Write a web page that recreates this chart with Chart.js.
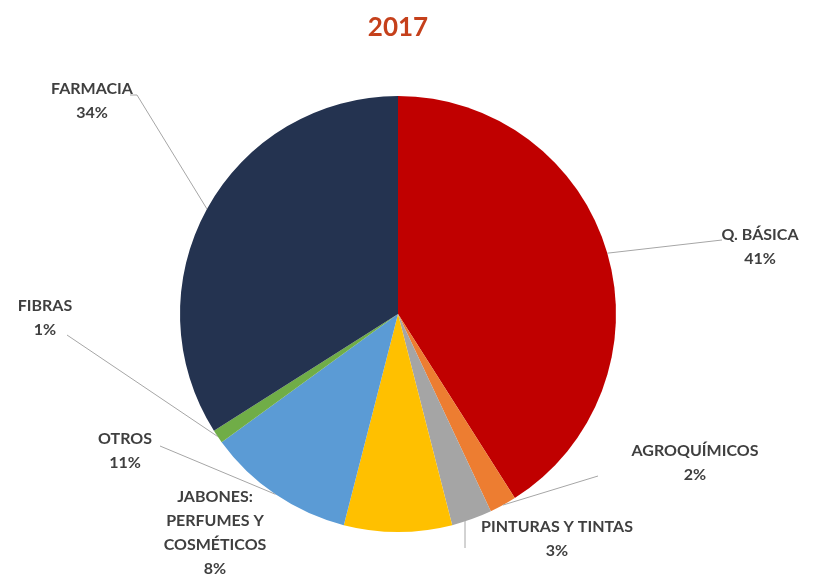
<!DOCTYPE html>
<html>
<head>
<meta charset="utf-8">
<script src="https://cdn.jsdelivr.net/npm/chart.js@4/dist/chart.umd.min.js"></script>
<style>
  html, body { margin: 0; padding: 0; background: #fff; }
  #wrap { width: 825px; height: 576px; position: relative; }
</style>
</head>
<body>
<div id="wrap"><canvas id="pie"></canvas></div>
<script>
// ── Data ─────────────────────────────────────────────────────────
const chartTitle = "2017";
const categories = ["Q. BÁSICA", "AGROQUÍMICOS", "PINTURAS Y TINTAS", "JABONES: PERFUMES Y COSMÉTICOS", "OTROS", "FIBRAS", "FARMACIA"];
const shares     = [41, 2, 3, 8, 11, 1, 34];
const colors     = ["#C00000", "#ED7D31", "#A5A5A5", "#FFC000", "#5B9BD5", "#70AD47", "#243350"];

// ── Label placement (text lines, anchor position, leader elbow) ─
const labelLayout = [
    { lines: ["Q. BÁSICA", "41%"],                          x: 760, y: 235, elbow: [722, 240] },
    { lines: ["AGROQUÍMICOS", "2%"],                        x: 695, y: 451, elbow: [598, 476] },
    { lines: ["PINTURAS Y TINTAS", "3%"],                   x: 557, y: 527, elbow: [465, 548], vertical: true },
    { lines: ["JABONES:", "PERFUMES Y", "COSMÉTICOS", "8%"], x: 215, y: 497, elbow: null },
    { lines: ["OTROS", "11%"],                              x: 125, y: 439, elbow: [160, 446] },
    { lines: ["FIBRAS", "1%"],                              x: 45,  y: 306, elbow: [67, 335] },
    { lines: ["FARMACIA", "34%"],                           x: 92,  y: 89,  elbow: [137, 95], tail: [130, 95] },
];

const FONT = "Lato, 'Open Sans', sans-serif";

const labelPlugin = {
    id: "pieLabels",
    afterDraw(chart) {
        const ctx = chart.ctx;
        const meta = chart.getDatasetMeta(0);
        ctx.save();

        // title
        ctx.fillStyle = "#C5401B";
        ctx.font = "bold 26px " + FONT;
        ctx.textAlign = "center";
        ctx.textBaseline = "middle";
        ctx.fillText(chartTitle, 398, 28);

        meta.data.forEach((arc, i) => {
            const L = labelLayout[i];
            const mid = (arc.startAngle + arc.endAngle) / 2;
            const ex = arc.x + Math.cos(mid) * arc.outerRadius;
            const ey = arc.y + Math.sin(mid) * arc.outerRadius;

            if (L.elbow) {
                ctx.strokeStyle = "#A6A6A6";
                ctx.lineWidth = 1;
                ctx.beginPath();
                if (L.vertical) {
                    ctx.moveTo(L.elbow[0], arc.y + arc.outerRadius * Math.sin(Math.acos((L.elbow[0] - arc.x) / arc.outerRadius)) - 2);
                } else {
                    ctx.moveTo(ex, ey);
                }
                ctx.lineTo(L.elbow[0], L.elbow[1]);
                if (L.tail) ctx.lineTo(L.tail[0], L.tail[1]);
                ctx.stroke();
            }

            ctx.fillStyle = "#3F3F3F";
            ctx.font = "bold 16px " + FONT;
            ctx.textAlign = "center";
            ctx.textBaseline = "middle";
            L.lines.forEach((t, k) => ctx.fillText(t, L.x, L.y + k * 24));
        });
        ctx.restore();
    }
};

new Chart(document.getElementById("pie"), {
    type: "pie",
    data: {
        labels: categories,
        datasets: [{
            data:            shares,
            backgroundColor: colors,
            borderWidth:     0,
        }]
    },
    options: {
        responsive:          true,
        maintainAspectRatio: false,
        animation:           false,
        layout: { padding: { top: 96, bottom: 44, left: 180, right: 209 } },
        plugins: {
            legend:  { display: false },
            tooltip: { enabled: false },
            title:   { display: false },
        }
    },
    plugins: [labelPlugin]
});
</script>
</body>
</html>
